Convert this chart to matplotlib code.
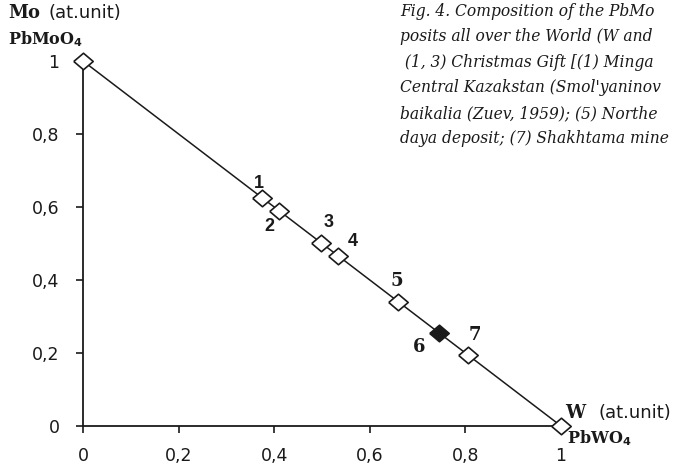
import matplotlib
matplotlib.use("Agg")
import matplotlib.pyplot as plt

# ---- data ----
line_w = [0.0, 1.0]
line_mo = [1.0, 0.0]

end_w = [0.0, 1.0]
end_mo = [1.0, 0.0]

sample_ids = ['1', '2', '3', '4', '5', '6', '7']
sample_w = [0.374, 0.41, 0.498, 0.534, 0.659, 0.745, 0.805]
sample_mo = [0.626, 0.59, 0.502, 0.466, 0.341, 0.255, 0.195]
sample_filled = [False, False, False, False, False, True, False]

tick_vals = [0, 0.2, 0.4, 0.6, 0.8, 1.0]
tick_labels = ['0', '0,2', '0,4', '0,6', '0,8', '1']

# caption fragment as visible in the reference (cropped at the right edge)
caption_lines = [
    "Fig. 4. Composition of the PbMo",
    "posits all over the World (W and",
    " (1, 3) Christmas Gift [(1) Minga",
    "Central Kazakstan (Smol'yaninov",
    "baikalia (Zuev, 1959); (5) Northe",
    "daya deposit; (7) Shakhtama mine",
]

# ---- figure ----
W, H = 675, 466
fig = plt.figure(figsize=(W / 100, H / 100), dpi=100)
ax = fig.add_axes([83 / W, 40 / H, 478 / W, 365 / H])
ax.set_xlim(0, 1)
ax.set_ylim(0, 1)

ink = '#1a1a1a'
ax.plot(line_w, line_mo, color=ink, lw=1.1, zorder=2, clip_on=False)

diamond = [(-1, 0), (0, 0.85), (1, 0), (0, -0.85), (-1, 0)]
ax.plot(end_w, end_mo, linestyle='none', marker=diamond, ms=14, mfc='white',
        mec=ink, mew=1.2, zorder=5, clip_on=False)
for x, y, f in zip(sample_w, sample_mo, sample_filled):
    ax.plot([x], [y], linestyle='none', marker=diamond, ms=14,
            mfc=ink if f else 'white', mec=ink, mew=1.2, zorder=5, clip_on=False)

label_offsets = {'1': (-3, 14), '2': (-10, -16), '3': (8, 20), '4': (14, 14),
                 '5': (-1, 21), '6': (-20, -14), '7': (7, 20)}
for sid, x, y in zip(sample_ids, sample_w, sample_mo):
    fam = 'Liberation Sans' if sid in '1234' else 'DejaVu Serif'
    ax.annotate(sid, (x, y), xytext=label_offsets[sid], textcoords='offset pixels',
                ha='center', va='center', fontsize=13, fontweight='bold',
                family=fam, color=ink)

for s in ['top', 'right']:
    ax.spines[s].set_visible(False)
for s in ['left', 'bottom']:
    ax.spines[s].set_linewidth(1.3)
    ax.spines[s].set_color(ink)

ax.set_xticks(tick_vals)
ax.set_xticklabels(tick_labels)
ax.set_yticks(tick_vals)
ax.set_yticklabels(tick_labels)
ax.tick_params(axis='both', direction='out', length=5, width=1.2, color=ink,
               labelsize=12.5, labelcolor=ink)
ax.tick_params(axis='x', pad=10)
ax.tick_params(axis='y', pad=12)
for lab in ax.get_xticklabels() + ax.get_yticklabels():
    lab.set_family('DejaVu Sans')

# axis titles
fig.text(8 / W, 1 - 13 / H, 'Mo', family='DejaVu Serif', fontweight='bold',
         fontsize=13, va='center', ha='left', color=ink)
fig.text(48 / W, 1 - 13 / H, '(at.unit)', family='DejaVu Sans',
         fontsize=13, va='center', ha='left', color=ink)
fig.text(8 / W, 1 - 39 / H, r'PbMoO$_{\mathbf{4}}$', family='DejaVu Serif',
         fontweight='bold', fontsize=11.5, va='center', ha='left', color=ink)

fig.text(565 / W, 1 - 413 / H, 'W', family='DejaVu Serif', fontweight='bold',
         fontsize=13, va='center', ha='left', color=ink)
fig.text(598 / W, 1 - 413 / H, '(at.unit)', family='DejaVu Sans',
         fontsize=13, va='center', ha='left', color=ink)
fig.text(567 / W, 1 - 438 / H, r'PbWO$_{\mathbf{4}}$', family='DejaVu Serif',
         fontweight='bold', fontsize=11.5, va='center', ha='left', color=ink)

for i, line in enumerate(caption_lines):
    fig.text(400 / W, 1 - (11 + 25.6 * i) / H, line, family='DejaVu Serif',
             style='italic', fontsize=11.2, va='center', ha='left', color=ink)

fig.savefig('out.png', dpi=100)
